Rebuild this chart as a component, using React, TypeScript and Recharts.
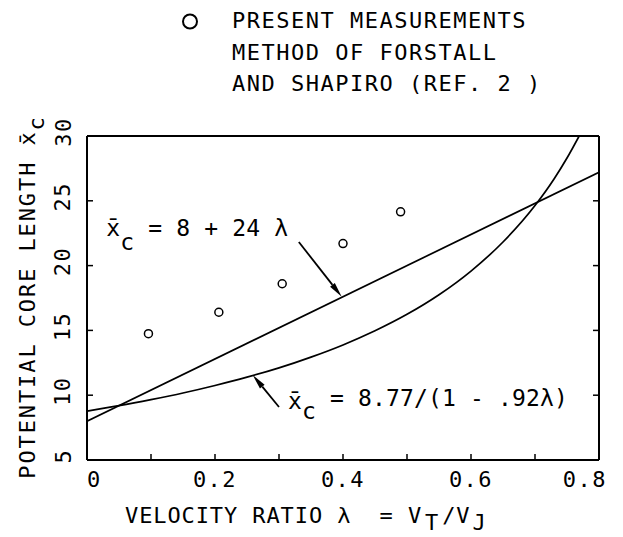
import {
  ComposedChart,
  Line,
  Scatter,
  XAxis,
  YAxis,
  Legend,
  ReferenceDot,
  ReferenceLine,
} from 'recharts'

const measLambda = [0.096, 0.206, 0.305, 0.4, 0.49]
const measXc = [14.75, 16.4, 18.6, 21.7, 24.15]

// xc = 8 + 24 lambda (straight line, end points)
const lineLambda = [0, 0.8]
const lineXc = [8, 27.2]

// xc = 8.77/(1 - .92 lambda), Forstall & Shapiro curve
const curveLambda = [0, 0.05, 0.1, 0.15, 0.2, 0.25, 0.3, 0.35, 0.4, 0.45, 0.5, 0.55, 0.6, 0.65, 0.7, 0.73, 0.75, 0.769]
const curveXc = [8.77, 9.19, 9.66, 10.17, 10.75, 11.39, 12.11, 12.94, 13.88, 14.97, 16.24, 17.75, 19.58, 21.82, 24.63, 26.7, 28.3, 30.0]

const xTicks = [0, 0.1, 0.2, 0.3, 0.4, 0.5, 0.6, 0.7, 0.8]
const xLabelTicks = [0, 0.2, 0.4, 0.6, 0.8]
const yTicks = [5, 10, 15, 20, 25, 30]

const legendLines = ['PRESENT MEASUREMENTS', 'METHOD OF FORSTALL', 'AND SHAPIRO (REF. 2 )']

const FONT = "'DejaVu Sans Mono', monospace"
const INK = '#000'
const TICK = 6

const measData = measLambda.map((l, i) => ({ lam: l, xc: measXc[i] }))
const lineData = lineLambda.map((l, i) => ({ lam: l, xc: lineXc[i] }))
const curveData = curveLambda.map((l, i) => ({ lam: l, xc: curveXc[i] }))

const axisStroke = { stroke: INK, strokeWidth: 2 }

// ticks point into the plot on all four sides, so each tick draws its own mark
function BottomTick({ x, y, payload }: any) {
  const v = payload.value
  const showLabel = xLabelTicks.includes(v)
  let anchor: 'start' | 'middle' | 'end' = 'middle'
  let tx = x
  if (v === 0) anchor = 'start'
  if (v === 0.8) { anchor = 'end'; tx = x + 8 }
  const inner = v !== 0 && v !== 0.8
  return (
    <g>
      {inner && <line x1={x} y1={y} x2={x} y2={y - TICK} stroke={INK} strokeWidth={1.5} />}
      {showLabel && (
        <text x={tx} y={y + 27} textAnchor={anchor} fontFamily={FONT} fontSize={22} letterSpacing={1.5} fill={INK}>
          {String(v)}
        </text>
      )}
    </g>
  )
}

function TopTick({ x, y, payload }: any) {
  const v = payload.value
  if (v === 0 || v === 0.8) return null
  return <line x1={x} y1={y} x2={x} y2={y + TICK} stroke={INK} strokeWidth={1.5} />
}

function LeftTick({ x, y, payload }: any) {
  const v = payload.value
  const cx = x - 24
  const cy = y - 4
  return (
    <g>
      {v !== 5 && v !== 30 && <line x1={x} y1={y} x2={x + TICK} y2={y} stroke={INK} strokeWidth={1.5} />}
      <text
        x={cx}
        y={cy}
        transform={`rotate(-90, ${cx}, ${cy})`}
        textAnchor="middle"
        dominantBaseline="central"
        fontFamily={FONT}
        fontSize={22}
        letterSpacing={1.5}
        fill={INK}
      >
        {v}
      </text>
    </g>
  )
}

function RightTick({ x, y, payload }: any) {
  const v = payload.value
  if (v === 5 || v === 30) return null
  return <line x1={x} y1={y} x2={x - TICK} y2={y} stroke={INK} strokeWidth={1.5} />
}

function XTitle({ viewBox }: any) {
  const x = viewBox.x + 38
  const y = viewBox.y + 63
  return (
    <text x={x} y={y} fontFamily={FONT} fontSize={22} letterSpacing={0.9} fill={INK} style={{ whiteSpace: 'pre' }}>
      {'VELOCITY RATIO λ  = V'}
      <tspan dy={7} dx={3}>T</tspan>
      <tspan dy={-7} dx={3}>/V</tspan>
      <tspan dy={7} dx={2}>J</tspan>
    </text>
  )
}

function YTitle() {
  return (
    <text
      transform="rotate(-90)"
      x={-297}
      y={35}
      textAnchor="middle"
      fontFamily={FONT}
      fontSize={22}
      letterSpacing={1.9}
      fill={INK}
    >
      {'POTENTIAL CORE LENGTH x\u0304'}
      <tspan dy={9}>c</tspan>
    </text>
  )
}

function LegendBox() {
  return (
    <svg width={623} height={100} style={{ display: 'block' }}>
      <circle cx={190} cy={21.5} r={7} fill="none" stroke={INK} strokeWidth={2} />
      {legendLines.map((t, i) => (
        <text key={t} x={232} y={28 + i * 31.5} fontFamily={FONT} fontSize={22} letterSpacing={1.5} fill={INK} style={{ whiteSpace: 'pre' }}>
          {t}
        </text>
      ))}
    </svg>
  )
}

function OpenCircle({ cx, cy }: any) {
  return <circle cx={cx} cy={cy} r={4} fill="#fff" stroke={INK} strokeWidth={1.5} />
}

function Arrow({ x1, y1, x2, y2 }: any) {
  const a = Math.atan2(y2 - y1, x2 - x1)
  const len = 15
  const hw = 3
  const bx = x2 - len * Math.cos(a)
  const by = y2 - len * Math.sin(a)
  const px = -Math.sin(a) * hw
  const py = Math.cos(a) * hw
  return (
    <g>
      <line x1={x1} y1={y1} x2={bx} y2={by} stroke={INK} strokeWidth={1.8} />
      <polygon points={`${x2},${y2} ${bx + px},${by + py} ${bx - px},${by - py}`} fill={INK} />
    </g>
  )
}

function LineLabel({ cx, cy }: any) {
  return (
    <text x={cx} y={cy} fontFamily={FONT} fontSize={23} letterSpacing={0.15} fill={INK} style={{ whiteSpace: 'pre' }}>
      {'x\u0304'}
      <tspan dy={14}>c</tspan>
      <tspan dy={-14}>{' = 8 + 24 λ'}</tspan>
    </text>
  )
}

function CurveLabel({ cx, cy }: any) {
  return (
    <text x={cx} y={cy} fontFamily={FONT} fontSize={23} letterSpacing={0.15} fill={INK} style={{ whiteSpace: 'pre' }}>
      {'x\u0304'}
      <tspan dy={10}>c</tspan>
      <tspan dy={-13}>{' = 8.77/(1 - .92λ)'}</tspan>
    </text>
  )
}

export default function App() {
  return (
    <div style={{ position: 'absolute', left: 0, top: 0, background: '#fff' }}>
      <ComposedChart width={623} height={537} margin={{ top: 135, right: 23, bottom: 76, left: 86 }}>
        <Legend layout="horizontal" verticalAlign="middle" wrapperStyle={{ top: 0, left: 0 }} content={<LegendBox />} />
        <XAxis
          xAxisId="b"
          dataKey="lam"
          type="number"
          orientation="bottom"
          domain={[0, 0.8]}
          allowDataOverflow
          ticks={xTicks}
          interval={0}
          height={1}
          tickSize={0}
          tickMargin={0}
          axisLine={axisStroke}
          tickLine={false}
          tick={<BottomTick />}
          label={{ content: <XTitle /> }}
        />
        <XAxis
          xAxisId="t"
          type="number"
          orientation="top"
          domain={[0, 0.8]}
          allowDataOverflow
          ticks={xTicks}
          interval={0}
          height={1}
          tickSize={0}
          tickMargin={0}
          axisLine={axisStroke}
          tickLine={false}
          tick={<TopTick />}
        />
        <YAxis
          yAxisId="l"
          dataKey="xc"
          type="number"
          orientation="left"
          domain={[5, 30]}
          allowDataOverflow
          ticks={yTicks}
          interval={0}
          width={1}
          tickSize={0}
          tickMargin={0}
          axisLine={axisStroke}
          tickLine={false}
          tick={<LeftTick />}
          label={{ content: <YTitle /> }}
        />
        <YAxis
          yAxisId="r"
          type="number"
          orientation="right"
          domain={[5, 30]}
          allowDataOverflow
          ticks={yTicks}
          interval={0}
          width={1}
          tickSize={0}
          tickMargin={0}
          axisLine={axisStroke}
          tickLine={false}
          tick={<RightTick />}
        />
        <Line
          xAxisId="b"
          yAxisId="l"
          data={lineData}
          dataKey="xc"
          type="linear"
          stroke={INK}
          strokeWidth={1.7}
          dot={false}
          isAnimationActive={false}
          legendType="none"
        />
        <Line
          xAxisId="b"
          yAxisId="l"
          data={curveData}
          dataKey="xc"
          type="monotone"
          stroke={INK}
          strokeWidth={1.7}
          dot={false}
          isAnimationActive={false}
          legendType="none"
        />
        <Scatter
          xAxisId="b"
          yAxisId="l"
          data={measData}
          dataKey="xc"
          shape={<OpenCircle />}
          isAnimationActive={false}
          legendType="circle"
        />
        <ReferenceLine
          xAxisId="b"
          yAxisId="l"
          segment={[{ x: 0.331, y: 21.82 }, { x: 0.398, y: 17.6 }]}
          shape={(p: any) => <Arrow {...p} />}
        />
        <ReferenceLine
          xAxisId="b"
          yAxisId="l"
          segment={[{ x: 0.3, y: 9.09 }, { x: 0.259, y: 11.55 }]}
          shape={(p: any) => <Arrow {...p} />}
        />
        <ReferenceDot xAxisId="b" yAxisId="l" x={0.03} y={22.28} shape={(p: any) => <LineLabel {...p} />} />
        <ReferenceDot xAxisId="b" yAxisId="l" x={0.314} y={8.9} shape={(p: any) => <CurveLabel {...p} />} />
      </ComposedChart>
    </div>
  )
}
